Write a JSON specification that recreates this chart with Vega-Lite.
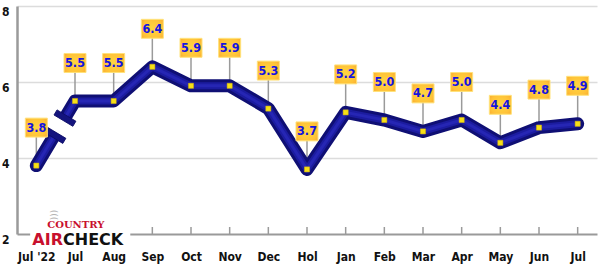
{
  "$schema": "https://vega.github.io/schema/vega-lite/v6.json",
  "width": 580,
  "height": 228,
  "autosize": {"type": "none"},
  "padding": {"left": 17, "top": 6, "right": 3, "bottom": 34},
  "background": "white",
  "config": {"view": {"stroke": null}, "font": "DejaVu Sans Condensed"},
  "datasets": {
    "ratings": [
      {"n": 0, "book": "Jul '22", "share": 3.8},
      {"n": 1, "book": "Jul", "share": 5.5},
      {"n": 2, "book": "Aug", "share": 5.5},
      {"n": 3, "book": "Sep", "share": 6.4},
      {"n": 4, "book": "Oct", "share": 5.9},
      {"n": 5, "book": "Nov", "share": 5.9},
      {"n": 6, "book": "Dec", "share": 5.3},
      {"n": 7, "book": "Hol", "share": 3.7},
      {"n": 8, "book": "Jan", "share": 5.2},
      {"n": 9, "book": "Feb", "share": 5.0},
      {"n": 10, "book": "Mar", "share": 4.7},
      {"n": 11, "book": "Apr", "share": 5.0},
      {"n": 12, "book": "May", "share": 4.4},
      {"n": 13, "book": "Jun", "share": 4.8},
      {"n": 14, "book": "Jul", "share": 4.9}
    ],
    "breakGap": [{"n": 0.61, "share": 4.83}],
    "breakCaps": [{"end": "lower", "n": 0.48, "share": 4.6}, {"end": "upper", "n": 0.74, "share": 5.05}],
    "logoPanel": [{"n": -0.16, "n2": 2.43, "share": 2.4, "share2": 1.64}],
    "logoWaves": [{"n": 0.45, "share": 2.5, "word": ")))"}],
    "logoTop": [{"n": 1.02, "share": 2.17, "word": "COUNTRY"}],
    "logoAir": [{"n": 0.69, "share": 1.72, "word": "AIR"}],
    "logoCheck": [{"n": 0.69, "share": 1.72, "word": "CHECK"}]
  },
  "layer": [
    {
      "data": {"name": "ratings"},
      "mark": {"type": "rule", "color": "#9a9a9a", "strokeWidth": 1.5, "y2Offset": -38},
      "encoding": {
        "x": {
          "field": "n",
          "type": "quantitative",
          "scale": {"domain": [-0.5, 14.5], "nice": false, "zero": false},
          "axis": {
            "title": null,
            "values": [0, 1, 2, 3, 4, 5, 6, 7, 8, 9, 10, 11, 12, 13, 14],
            "labelExpr": "[\"Jul '22\", \"Jul\", \"Aug\", \"Sep\", \"Oct\", \"Nov\", \"Dec\", \"Hol\", \"Jan\", \"Feb\", \"Mar\", \"Apr\", \"May\", \"Jun\", \"Jul\"][datum.value]",
            "grid": false,
            "ticks": false,
            "domainColor": "#9a9a9a",
            "domainWidth": 2,
            "labelPadding": 17,
            "labelFont": "DejaVu Sans Condensed",
            "labelFontWeight": "bold",
            "labelFontSize": 12,
            "labelColor": "#111111",
            "labelOverlap": false,
            "labelFlush": false
          }
        },
        "y": {
          "field": "share",
          "type": "quantitative",
          "scale": {"domain": [2, 8], "nice": false, "zero": false},
          "axis": {
            "title": null,
            "values": [2, 4, 6, 8],
            "grid": true,
            "gridColor": "#dcdcdc",
            "gridWidth": 1.5,
            "gridOpacity": {"condition": {"test": "datum.value === 2", "value": 0}, "value": 1},
            "ticks": false,
            "domainColor": "#9a9a9a",
            "domainWidth": 2.5,
            "labelPadding": 8,
            "labelBaseline": "top",
            "labelFont": "DejaVu Sans Condensed",
            "labelFontWeight": "bold",
            "labelFontSize": 12,
            "labelColor": "#111111",
            "labelFlush": false,
            "labelOverlap": false
          }
        },
        "y2": {"field": "share"}
      }
    },
    {
      "data": {"name": "ratings"},
      "mark": {"type": "rule", "color": "#9a9a9a", "strokeWidth": 1.5, "y2Offset": -7},
      "encoding": {
        "x": {"field": "n", "type": "quantitative"},
        "y": {"datum": 2, "type": "quantitative"},
        "y2": {"datum": 2}
      }
    },
    {
      "data": {"name": "ratings"},
      "mark": {"type": "line", "color": "#0f0f74", "strokeWidth": 13, "strokeCap": "round", "strokeJoin": "round"},
      "encoding": {
        "x": {"field": "n", "type": "quantitative"},
        "y": {"field": "share", "type": "quantitative"}
      }
    },
    {
      "data": {"name": "ratings"},
      "mark": {"type": "line", "color": "#1c1ca0", "strokeWidth": 7, "strokeCap": "round", "strokeJoin": "round"},
      "encoding": {
        "x": {"field": "n", "type": "quantitative"},
        "y": {"field": "share", "type": "quantitative"}
      }
    },
    {
      "data": {"name": "ratings"},
      "mark": {"type": "line", "color": "#2626b4", "strokeWidth": 3, "strokeCap": "round", "strokeJoin": "round"},
      "encoding": {
        "x": {"field": "n", "type": "quantitative"},
        "y": {"field": "share", "type": "quantitative"}
      }
    },
    {
      "data": {"name": "breakGap"},
      "mark": {"type": "point", "shape": "M-1,-0.5L1,-0.5L1,0.5L-1,0.5Z", "size": 900, "filled": true, "fill": "white", "stroke": null, "opacity": 1, "angle": 31},
      "encoding": {
        "x": {"field": "n", "type": "quantitative"},
        "y": {"field": "share", "type": "quantitative"}
      }
    },
    {
      "data": {"name": "breakCaps"},
      "mark": {"type": "point", "shape": "M-1,-0.27L1,-0.27L1,0.27L-1,0.27Z", "size": 484, "filled": true, "fill": "#14147e", "stroke": "#0c0c66", "strokeWidth": 0.8, "opacity": 1, "angle": 31},
      "encoding": {
        "x": {"field": "n", "type": "quantitative"},
        "y": {"field": "share", "type": "quantitative"}
      }
    },
    {
      "data": {"name": "ratings"},
      "mark": {"type": "point", "shape": "square", "size": 26, "filled": true, "fill": "#f7e017", "stroke": "#d8b800", "strokeWidth": 0.5, "opacity": 1},
      "encoding": {
        "x": {"field": "n", "type": "quantitative"},
        "y": {"field": "share", "type": "quantitative"}
      }
    },
    {
      "data": {"name": "ratings"},
      "mark": {
        "type": "point",
        "shape": "M-1,-0.86L1,-0.86L1,0.86L-1,0.86Z",
        "size": 484,
        "filled": true,
        "opacity": 1,
        "yOffset": -38,
        "fill": {
          "gradient": "radial",
          "x1": 0.5, "y1": 0.5, "r1": 0,
          "x2": 0.5, "y2": 0.5, "r2": 0.75,
          "stops": [
            {"offset": 0, "color": "#ffd640"},
            {"offset": 0.6, "color": "#ffc238"},
            {"offset": 1, "color": "#f7a12a"}
          ]
        },
        "stroke": "#ffe27a",
        "strokeWidth": 1
      },
      "encoding": {
        "x": {"field": "n", "type": "quantitative"},
        "y": {"field": "share", "type": "quantitative"}
      }
    },
    {
      "data": {"name": "ratings"},
      "mark": {"type": "text", "yOffset": -38, "fontSize": 12.5, "fontWeight": "bold", "font": "DejaVu Sans Condensed", "color": "#1414e0", "baseline": "middle", "align": "center"},
      "encoding": {
        "x": {"field": "n", "type": "quantitative"},
        "y": {"field": "share", "type": "quantitative"},
        "text": {"field": "share", "type": "quantitative", "format": ".1f"}
      }
    },
    {
      "data": {"name": "logoPanel"},
      "mark": {"type": "rect", "color": "white", "opacity": 1},
      "encoding": {
        "x": {"field": "n", "type": "quantitative"},
        "x2": {"field": "n2"},
        "y": {"field": "share", "type": "quantitative"},
        "y2": {"field": "share2"}
      }
    },
    {
      "data": {"name": "logoWaves"},
      "mark": {"type": "text", "angle": 270, "fontSize": 9, "font": "DejaVu Sans", "color": "#b4b4b4", "baseline": "middle", "align": "center"},
      "encoding": {
        "x": {"field": "n", "type": "quantitative"},
        "y": {"field": "share", "type": "quantitative"},
        "text": {"field": "word"}
      }
    },
    {
      "data": {"name": "logoTop"},
      "mark": {"type": "text", "fontSize": 10, "fontWeight": "bold", "font": "DejaVu Serif", "color": "#c8102e", "baseline": "alphabetic", "align": "center"},
      "encoding": {
        "x": {"field": "n", "type": "quantitative"},
        "y": {"field": "share", "type": "quantitative"},
        "text": {"field": "word"}
      }
    },
    {
      "data": {"name": "logoAir"},
      "mark": {"type": "text", "fontSize": 16, "fontWeight": "bold", "font": "DejaVu Sans", "color": "#c8102e", "baseline": "alphabetic", "align": "right"},
      "encoding": {
        "x": {"field": "n", "type": "quantitative"},
        "y": {"field": "share", "type": "quantitative"},
        "text": {"field": "word"}
      }
    },
    {
      "data": {"name": "logoCheck"},
      "mark": {"type": "text", "fontSize": 16, "fontWeight": "bold", "font": "DejaVu Sans", "color": "#111111", "baseline": "alphabetic", "align": "left"},
      "encoding": {
        "x": {"field": "n", "type": "quantitative"},
        "y": {"field": "share", "type": "quantitative"},
        "text": {"field": "word"}
      }
    }
  ]
}
